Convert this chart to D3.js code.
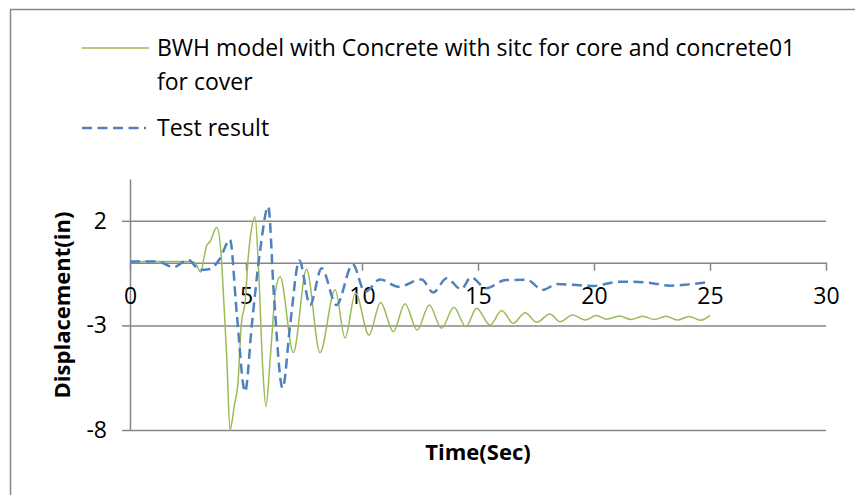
<!DOCTYPE html>
<html>
<head>
<meta charset="utf-8">
<script src="https://cdn.jsdelivr.net/npm/d3@7"></script>
<style>
  body { margin: 0; background: #fff; }
  text { font-family: "Open Sans", "Noto Sans", sans-serif; fill: #000; }
</style>
</head>
<body>
<svg width="855" height="495"></svg>
<script>
// series: [time (sec), displacement (in)]
const modelSeries = [
  [0, 0.05], [1, 0.05], [2, 0.05], [2.6, 0.05], [2.8, 0.0], [3.05, -0.45], [3.2, 0.3],
  [3.3, 0.8], [3.45, 1.0], [3.74, 1.69], [3.92, 0.5], [4.05, -2.0], [4.17, -4.5],
  [4.31, -8.0], [4.5, -6.8], [4.65, -5.8], [4.8, -2.9], [4.96, -1.9], [5.1, 0.3],
  [5.25, 1.7], [5.39, 2.2], [5.55, -0.5], [5.72, -5.0], [5.86, -6.88], [6.05, -4.5],
  [6.28, -1.3], [6.47, -0.67], [7.04, -4.3], [7.61, -0.32], [8.19, -4.3], [8.84, -1.3],
  [9.27, -3.6], [9.72, -1.45], [10.3, -3.46], [10.8, -1.9], [11.35, -3.3], [11.85, -1.97],
  [12.38, -3.22], [12.9, -2.02], [13.43, -3.14], [13.96, -2.13], [14.48, -3.06],
  [14.94, -2.18], [15.52, -2.98], [16.02, -2.29], [16.52, -2.9], [17.03, -2.39],
  [17.53, -2.85], [18.1, -2.45], [18.53, -2.82], [19.08, -2.5], [19.61, -2.74],
  [20.1, -2.53], [20.55, -2.7], [21.1, -2.55], [21.6, -2.72], [22.1, -2.56],
  [22.6, -2.72], [23.1, -2.56], [23.6, -2.74], [24.1, -2.57], [24.6, -2.75], [25, -2.52]
];

const testSeries = [
  [0, 0.05], [1.2, 0.05], [1.87, -0.22], [2.51, 0.13], [3.02, -0.35], [3.45, -0.3],
  [3.88, 0.2], [4.31, 1.1], [4.6, -2.4], [4.96, -6.17], [5.25, -3.0], [5.6, 0.5],
  [5.96, 2.68], [6.2, -1.5], [6.58, -6.0], [6.9, -3.0], [7.3, 0.1], [7.76, -2.02],
  [8.26, -0.27], [8.9, -2.02], [9.6, -0.08], [10.13, -1.4], [10.78, -0.8], [11.57, -1.15],
  [12.57, -0.8], [13.07, -1.43], [13.65, -0.75], [14.27, -1.27], [14.7, -0.7],
  [15.35, -1.22], [16.2, -0.83], [17.1, -0.82], [17.8, -1.3], [18.39, -1.02],
  [19.1, -1.06], [19.97, -1.11], [21.1, -0.91], [21.55, -0.91], [22.5, -0.98],
  [23.28, -1.1], [24.0, -1.05], [25, -0.92]
];

const seriesNames = ["BWH model with Concrete with sitc for core and concrete01", "for cover", "Test result"];
const xTicks = [0, 5, 10, 15, 20, 25, 30];
const yTicks = [-8, -3, 2];

const gridColor = "#868686",
    modelColor = "#9bbb59",
    testColor = "#4f81bd";

const svg = d3.select("svg");

// chart area frame (only left and top edges fall inside the picture)
svg.append("path")
    .attr("d", "M10.5,495V9.5H855")
    .attr("fill", "none")
    .attr("stroke", gridColor)
    .attr("stroke-width", 1.5);

const x = d3.scaleLinear().domain([0, 30]).range([130, 826]);
const y = d3.scaleLinear().domain([-8, 4]).range([430, 179]);

// horizontal gridlines
svg.append("g")
    .attr("transform", "translate(130,0)")
    .call(d3.axisLeft(y).tickValues(yTicks).tickSize(-(826 - 130)).tickFormat(""))
    .call(g => g.select(".domain").remove())
    .call(g => g.selectAll("line").attr("stroke", gridColor).attr("stroke-width", 1.5));

// y axis
svg.append("g")
    .attr("transform", "translate(130,0)")
    .call(d3.axisLeft(y).tickValues(yTicks).tickFormat(d => d).tickSizeInner(8).tickSizeOuter(0).tickPadding(15))
    .call(g => g.select(".domain").attr("stroke", gridColor).attr("stroke-width", 1.5))
    .call(g => g.selectAll("line").attr("stroke", gridColor).attr("stroke-width", 1.5))
    .call(g => g.selectAll("text").attr("font-family", null).style("font-size", "23px"));

// x axis crossing at y = 0
svg.append("g")
    .attr("transform", "translate(0," + y(0) + ")")
    .call(d3.axisBottom(x).tickValues(xTicks).tickFormat(d => d).tickSizeInner(8).tickSizeOuter(0).tickPadding(17))
    .call(g => g.select(".domain").attr("stroke", gridColor).attr("stroke-width", 1.5))
    .call(g => g.selectAll("line").attr("stroke", gridColor).attr("stroke-width", 1.5))
    .call(g => g.selectAll("text").attr("font-family", null).style("font-size", "23px"));

const line = d3.line()
    .x(d => x(d[0]))
    .y(d => y(d[1]))
    .curve(d3.curveMonotoneX);

svg.append("path")
    .datum(modelSeries)
    .attr("d", line)
    .attr("fill", "none")
    .attr("stroke", modelColor)
    .attr("stroke-width", 1.5);

svg.append("path")
    .datum(testSeries)
    .attr("d", line)
    .attr("fill", "none")
    .attr("stroke", testColor)
    .attr("stroke-width", 2.5)
    .attr("stroke-dasharray", "10,5.5");

// axis titles
svg.append("text")
    .attr("x", 478)
    .attr("y", 460)
    .attr("text-anchor", "middle")
    .style("font-size", "22px")
    .style("font-weight", "bold")
    .text("Time(Sec)");

svg.append("text")
    .attr("transform", "translate(70,305) rotate(-90)")
    .attr("text-anchor", "middle")
    .style("font-size", "22px")
    .style("font-weight", "bold")
    .text("Displacement(in)");

// legend
const legend = svg.append("g");

legend.append("line")
    .attr("x1", 82).attr("x2", 149).attr("y1", 48).attr("y2", 48)
    .attr("stroke", modelColor).attr("stroke-width", 1.5);

legend.append("line")
    .attr("x1", 82).attr("x2", 146).attr("y1", 128).attr("y2", 128)
    .attr("stroke", testColor).attr("stroke-width", 2.5)
    .attr("stroke-dasharray", "10,5.5");

legend.selectAll("text")
    .data(seriesNames)
    .enter().append("text")
    .attr("x", 157)
    .attr("y", (d, i) => [56, 90, 136][i])
    .style("font-size", "23px")
    .text(d => d);
</script>
</body>
</html>
